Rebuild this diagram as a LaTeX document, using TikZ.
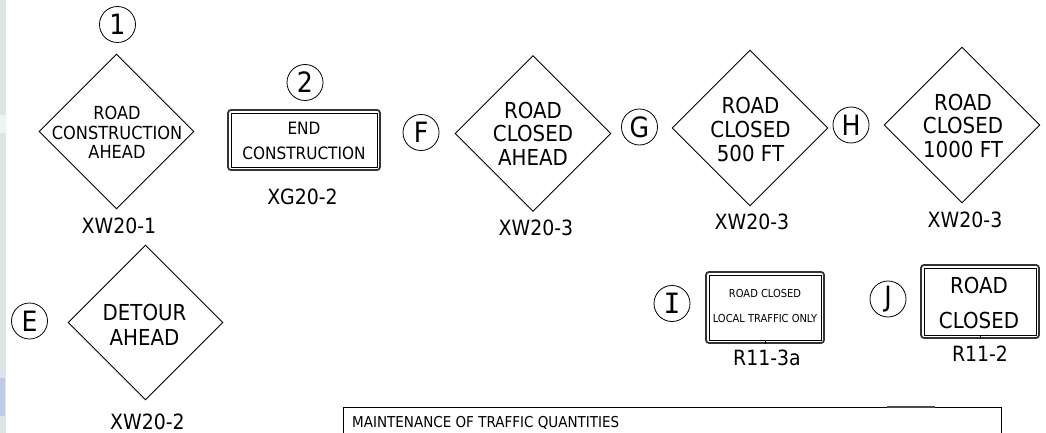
\documentclass[tikz,border=0pt]{standalone}
\usepackage{fontspec}
\setmainfont{DejaVu Sans}[FakeStretch=0.9]
\newfontfamily\serifI{DejaVu Sans Mono}
\usetikzlibrary{shapes.geometric}
\definecolor{stripgray}{RGB}{222,229,230}
\definecolor{stripblue}{RGB}{190,204,232}
\begin{document}
\begin{tikzpicture}[x=1pt,y=-1pt,
  sign/.style={draw, line width=0.9pt, shape=diamond, aspect=1, minimum width=155pt, minimum height=155pt, inner sep=0pt},
  num/.style={draw, circle, line width=0.8pt, minimum size=36pt, inner sep=0pt, font=\fontsize{28}{28}\selectfont},
  code/.style={inner sep=0pt, font=\fontsize{21}{21}\selectfont},
  txt/.style={inner sep=0pt, align=center},
  plate/.style={draw=black!80, line width=1.8pt, rounded corners=3pt, inner sep=0pt,
    path picture={\draw[black, line width=0.8pt, sharp corners] ([shift={(3pt,-3pt)}]path picture bounding box.north west) rectangle ([shift={(-3pt,3pt)}]path picture bounding box.south east);}},
  tick/.style={line width=1pt}
]
\useasboundingbox (0,0) rectangle (1046,433);
% left background strip
\fill[stripgray] (0,0) rectangle (6,115);
\fill[stripgray!50] (0,115) rectangle (6,133);
\fill[stripgray] (0,133) rectangle (6,433);
\fill[stripblue] (0,378) rectangle (5,416);

% sign 1
\node[num] (n1) at (117.5,24.5) {1};
\node[sign] (d1) at (116.5,131.5) {};
\node[txt, font=\fontsize{18}{19.5}\selectfont] (d1t) at (117,132.5) {ROAD\\CONSTRUCTION\\AHEAD};
\node[code] (c1) at (119,226) {XW20-1};

% sign 2
\node[num] (n2) at (305,82.5) {2};
\node[plate, minimum width=152pt, minimum height=60pt] (p2) at (304,140) {};
\node[txt, font=\fontsize{17}{25}\selectfont] (p2t) at (304,140.5) {END\\CONSTRUCTION};
\node[code] (c2) at (302.5,197) {XG20-2};

% sign F
\node[num] (nF) at (421,132.5) {F};
\node[sign, minimum width=156pt, minimum height=156pt] (dF) at (533,133.5) {};
\node[txt, font=\fontsize{22}{23.5}\selectfont] (dFt) at (533,133.5) {ROAD\\CLOSED\\AHEAD};
\node[code] (cF) at (536,227.5) {XW20-3};

% sign G
\node[num] (nG) at (639.5,127) {G};
\node[sign, minimum width=156pt, minimum height=156pt] (dG) at (750,128) {};
\node[txt, font=\fontsize{22}{24}\selectfont] (dGt) at (750.5,129) {ROAD\\CLOSED\\500 FT};
\node[code] (cG) at (752,221.5) {XW20-3};

% sign H
\node[num] (nH) at (851,125) {H};
\node[sign, minimum width=156pt, minimum height=156pt] (dH) at (962,125) {};
\node[txt, font=\fontsize{22}{23.5}\selectfont] (dHt) at (963,125.5) {ROAD\\CLOSED\\1000 FT};
\node[code] (cH) at (965,219.5) {XW20-3};

% sign E
\node[num] (nE) at (29.5,321) {E};
\node[sign] (dE) at (145.5,322.5) {};
\node[txt, font=\fontsize{22}{25}\selectfont] (dEt) at (144.5,324.5) {DETOUR\\AHEAD};
\node[code] (cE) at (147.5,421.5) {XW20-2};

% sign I
\node[num, font=\serifI\fontsize{28}{28}\selectfont] (nI) at (672,303.5) {I};
\node[plate, minimum width=118pt, minimum height=71pt] (pI) at (765,307.5) {};
\node[txt, font=\fontsize{11}{25}\selectfont] (pIt) at (765,305.5) {ROAD CLOSED\\LOCAL TRAFFIC ONLY};
\node[code] (cI) at (767,358) {R11-3a};
\draw[tick] (pI.south) -- ++(0,-3);

% sign J
\node[num] (nJ) at (888,299) {J};
\node[plate, minimum width=118pt, minimum height=73pt] (pJ) at (980,301.5) {};
\node[txt, font=\fontsize{22}{35}\selectfont] (pJt) at (979,302.5) {ROAD\\CLOSED};
\node[code] (cJ) at (980,354) {R11-2};
\draw[tick] (pJ.south) -- ++(0,-3);

% quantities table
\coordinate (tblBL) at (343,440);
\coordinate (tblTR) at (1001,407);
\coordinate (tblBR) at (1001,440);
\draw[line width=0.9pt] (tblBL) |- (tblTR) -- (tblBR);
\draw[line width=1.4pt, black!70] (887,407) -- (935,407);
\node[anchor=west, inner sep=0pt, font=\fontsize{15}{15}\selectfont] (tblT) at (352,423) {MAINTENANCE OF TRAFFIC QUANTITIES};
\end{tikzpicture}
\end{document}
